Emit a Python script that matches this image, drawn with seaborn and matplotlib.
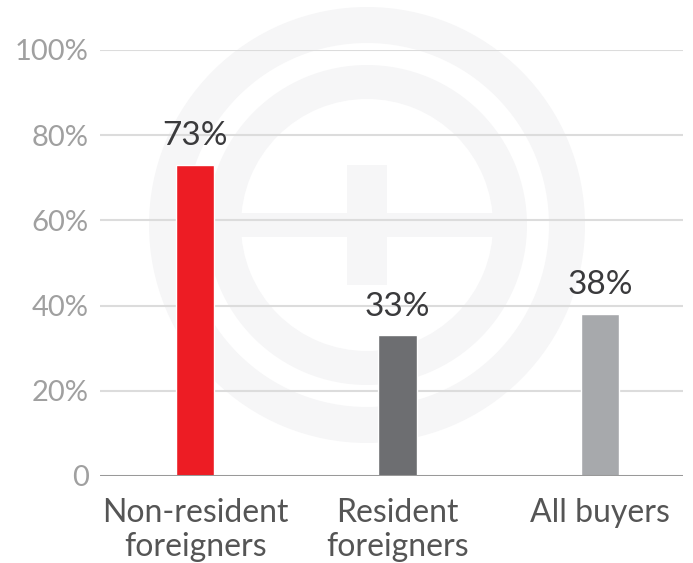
import matplotlib
matplotlib.use("Agg")
import matplotlib.pyplot as plt
import seaborn as sns
import pandas as pd
from matplotlib.patches import Wedge, Rectangle

categories = ["Non-resident\nforeigners", "Resident\nforeigners", "All buyers"]
shares = [73, 33, 38]
bar_colors = ["#ed1c24", "#6d6e71", "#a7a9ac"]
tick_values = [0, 20, 40, 60, 80, 100]
tick_labels = ["0", "20%", "40%", "60%", "80%", "100%"]

sns.set_theme(style="white")
plt.rcParams["font.family"] = ["Lato", "DejaVu Sans"]

W, H = 693, 563
fig = plt.figure(figsize=(W / 100, H / 100), dpi=100)

# faint emblem drawn behind the chart
bg = fig.add_axes([0, 0, 1, 1], zorder=0)
bg.set_xlim(0, W)
bg.set_ylim(H, 0)
bg.axis("off")
emblem = "#f6f6f7"
cx, cy = 367, 225
bg.add_patch(Wedge((cx, cy), 218, 0, 360, width=36, color=emblem, lw=0))
bg.add_patch(Wedge((cx, cy), 160, 0, 360, width=34, color=emblem, lw=0))
bg.add_patch(Rectangle((cx - 150, cy - 12), 300, 24, color=emblem, lw=0))
bg.add_patch(Rectangle((cx - 20, cy - 60), 40, 120, color=emblem, lw=0))

ax = fig.add_axes([100 / W, 1 - 476 / H, 583 / W, 426 / H], zorder=1)
ax.patch.set_alpha(0)

df = pd.DataFrame({"category": categories, "share": shares})
sns.barplot(data=df, x="category", y="share", hue="category",
            palette=bar_colors, width=0.19, legend=False, ax=ax,
            saturation=1, zorder=3)

for i, v in enumerate(shares):
    ax.text(i, v + 3.2, f"{v}%", ha="center", va="bottom",
            fontsize=24, color="#3a3a3c")

ax.set_xlim(-0.47, 2.41)
ax.set_ylim(0, 100)
ax.set_yticks(tick_values)
ax.set_yticklabels(tick_labels, fontsize=21, color="#a0a0a0")
ax.tick_params(axis="y", length=0, pad=8)
ax.tick_params(axis="x", length=0, pad=16, labelsize=23, labelcolor="#555555")
for lbl in ax.get_xticklabels():
    lbl.set_linespacing(1.15)

for v in tick_values[1:]:
    ax.axhline(v, color="#dcdcdc", lw=1.5, zorder=1)
ax.axhline(0, color="#999999", lw=2.2, zorder=4)

for s in ax.spines.values():
    s.set_visible(False)
ax.set_xlabel("")
ax.set_ylabel("")

fig.savefig("out.png", dpi=100, facecolor="white")
